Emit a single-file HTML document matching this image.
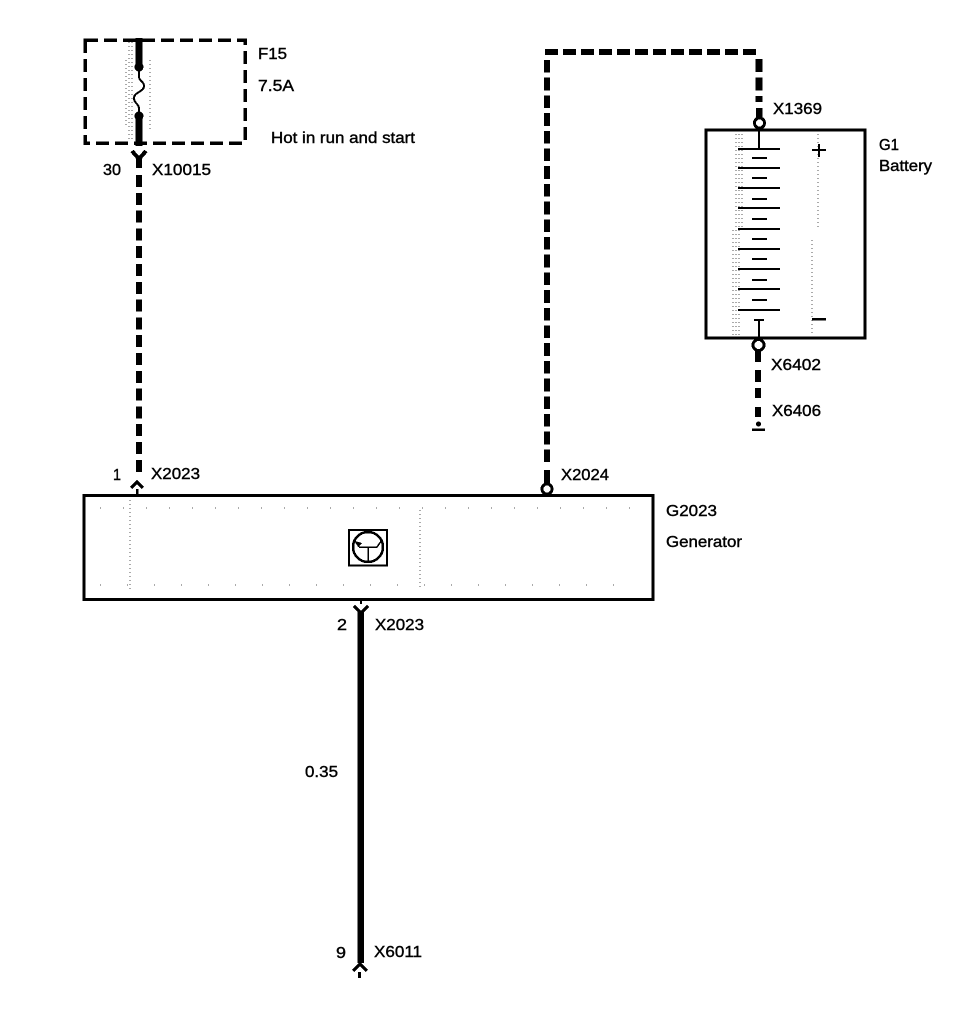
<!DOCTYPE html>
<html><head><meta charset="utf-8"><style>
html,body{margin:0;padding:0;background:#fff;width:960px;height:1030px;overflow:hidden}
svg{display:block}
text{font-family:"Liberation Sans",sans-serif;font-size:16px;fill:#000;stroke:#000;stroke-width:.4}
</style></head><body>
<svg width="960" height="1030" viewBox="0 0 960 1030" xmlns="http://www.w3.org/2000/svg">
<g shape-rendering="crispEdges">
<!-- speckle -->
<g fill="none" stroke="#555" stroke-width="1" stroke-dasharray="1 3">
<path d="M129 42V140M132 42V140M126 60V128M150 60V130"/>
<path d="M736 134V336M739 134V336M742 134V230M733 230V336M818 134V230M812 240V336"/>
<path d="M420 510V590M130 500V590"/>
<path d="M100 508H640" stroke-dasharray="1 22"/>
<path d="M100 585H640" stroke-dasharray="1 26"/>
</g>
<!-- fuse box -->
<rect x="85" y="40" width="160" height="103" fill="none" stroke="#000" stroke-width="3.5" stroke-dasharray="13 6"/>
<path d="M139 38V67M139 116V146" stroke="#000" stroke-width="7" fill="none"/>
<circle cx="139" cy="67" r="4.5"/><circle cx="139" cy="116" r="4.5"/>
<path d="M139 67V76C139 82 144 81 144 86C144 92 134 92 134 98C134 104 139 103 139 109V116" fill="none" stroke="#000" stroke-width="2"/>
<!-- left wire -->
<path d="M132 151L139 159L146 151" fill="none" stroke="#000" stroke-width="4"/>
<path d="M139 156V168" stroke="#000" stroke-width="6"/>
<path d="M139 175V472" stroke="#000" stroke-width="6" stroke-dasharray="12 5.8" fill="none"/>
<path d="M131 488L137 482L143 488" fill="none" stroke="#000" stroke-width="3.5"/>
<path d="M137 489V495" stroke="#000" stroke-width="2.5"/>
<!-- battery wire -->
<path d="M547 60V462" fill="none" stroke="#000" stroke-width="6" stroke-dasharray="12.700 5"/>
<path d="M545 52H757" fill="none" stroke="#000" stroke-width="6" stroke-dasharray="13 5"/>
<path d="M759 59V102" fill="none" stroke="#000" stroke-width="7" stroke-dasharray="13 5.500"/>
<path d="M547 470V484" stroke="#000" stroke-width="6"/>
<path d="M759 108V118" stroke="#000" stroke-width="6.500"/>
<!-- battery -->
<rect x="706" y="130" width="159" height="208" fill="none" stroke="#000" stroke-width="3"/>
<circle cx="759.500" cy="123" r="5" fill="#fff" stroke="#000" stroke-width="3"/>
<circle cx="758.500" cy="345" r="5.500" fill="#fff" stroke="#000" stroke-width="3"/>
<path d="M759 130V148M759 338V320M754 320H764" stroke="#000" stroke-width="2" fill="none"/>
<path d="M738 149H780M738 168H780M738 188H780M738 208H780M738 229H780M738 249H780M738 269H780M738 289H780M738 310H780" stroke="#000" stroke-width="2"/>
<path d="M752 158H767M752 178H767M752 199H767M752 219H767M752 239H767M752 259H767M752 280H767M752 300H767" stroke="#000" stroke-width="2"/>
<path d="M812 150H826M819 144V157" stroke="#000" stroke-width="2"/>
<path d="M812 319H826" stroke="#000" stroke-width="2.500"/>
<path d="M758 351V362M758 370V382M758 388V398M758 407V417" stroke="#000" stroke-width="6"/>
<circle cx="758.500" cy="424" r="2.500"/>
<path d="M752 429.500H765" stroke="#000" stroke-width="2.500"/>
<!-- generator -->
<rect x="84" y="495.500" width="569" height="104" fill="none" stroke="#000" stroke-width="3"/>
<rect x="349" y="530" width="38" height="35.500" fill="none" stroke="#000" stroke-width="2"/>
<circle cx="368" cy="547" r="15" fill="none" stroke="#000" stroke-width="2.500"/>
<path d="M368 547V561M359 547H377L382 540M359 547L355 541" fill="none" stroke="#000" stroke-width="1.500"/>
<path d="M355 541L362 543L358 547Z"/>
<circle cx="547" cy="489" r="5" fill="#fff" stroke="#000" stroke-width="3"/>
<!-- bottom wire -->
<path d="M361 600V604" stroke="#000" stroke-width="2"/>
<path d="M354 606L361 613L368 606" fill="none" stroke="#000" stroke-width="3.500"/>
<path d="M360.500 611V963" stroke="#000" stroke-width="6.500"/>
<path d="M353 971L360 964L367 971" fill="none" stroke="#000" stroke-width="3.500"/>
<path d="M359.500 972V978" stroke="#000" stroke-width="3"/>
</g>
<!-- labels -->
<text x="258" y="59" textLength="29" lengthAdjust="spacingAndGlyphs">F15</text>
<text x="258" y="91" textLength="36" lengthAdjust="spacingAndGlyphs">7.5A</text>
<text x="271" y="143" textLength="144" lengthAdjust="spacingAndGlyphs">Hot in run and start</text>
<text x="103" y="175" textLength="18" lengthAdjust="spacingAndGlyphs">30</text>
<text x="152" y="175" textLength="59" lengthAdjust="spacingAndGlyphs">X10015</text>
<text x="773" y="114" textLength="49" lengthAdjust="spacingAndGlyphs">X1369</text>
<text x="879" y="150" textLength="20" lengthAdjust="spacingAndGlyphs">G1</text>
<text x="879" y="171" textLength="53" lengthAdjust="spacingAndGlyphs">Battery</text>
<text x="771" y="370" textLength="50" lengthAdjust="spacingAndGlyphs">X6402</text>
<text x="772" y="416" textLength="49" lengthAdjust="spacingAndGlyphs">X6406</text>
<text x="113" y="480" textLength="8" lengthAdjust="spacingAndGlyphs">1</text>
<text x="151" y="479" textLength="49" lengthAdjust="spacingAndGlyphs">X2023</text>
<text x="561" y="480" textLength="48" lengthAdjust="spacingAndGlyphs">X2024</text>
<text x="666" y="516" textLength="51" lengthAdjust="spacingAndGlyphs">G2023</text>
<text x="666" y="547" textLength="76" lengthAdjust="spacingAndGlyphs">Generator</text>
<text x="337" y="630" textLength="10" lengthAdjust="spacingAndGlyphs">2</text>
<text x="375" y="630" textLength="49" lengthAdjust="spacingAndGlyphs">X2023</text>
<text x="305" y="777" textLength="33" lengthAdjust="spacingAndGlyphs">0.35</text>
<text x="336" y="958" textLength="10" lengthAdjust="spacingAndGlyphs">9</text>
<text x="374" y="957" textLength="48" lengthAdjust="spacingAndGlyphs">X6011</text>
</svg>
</body></html>
